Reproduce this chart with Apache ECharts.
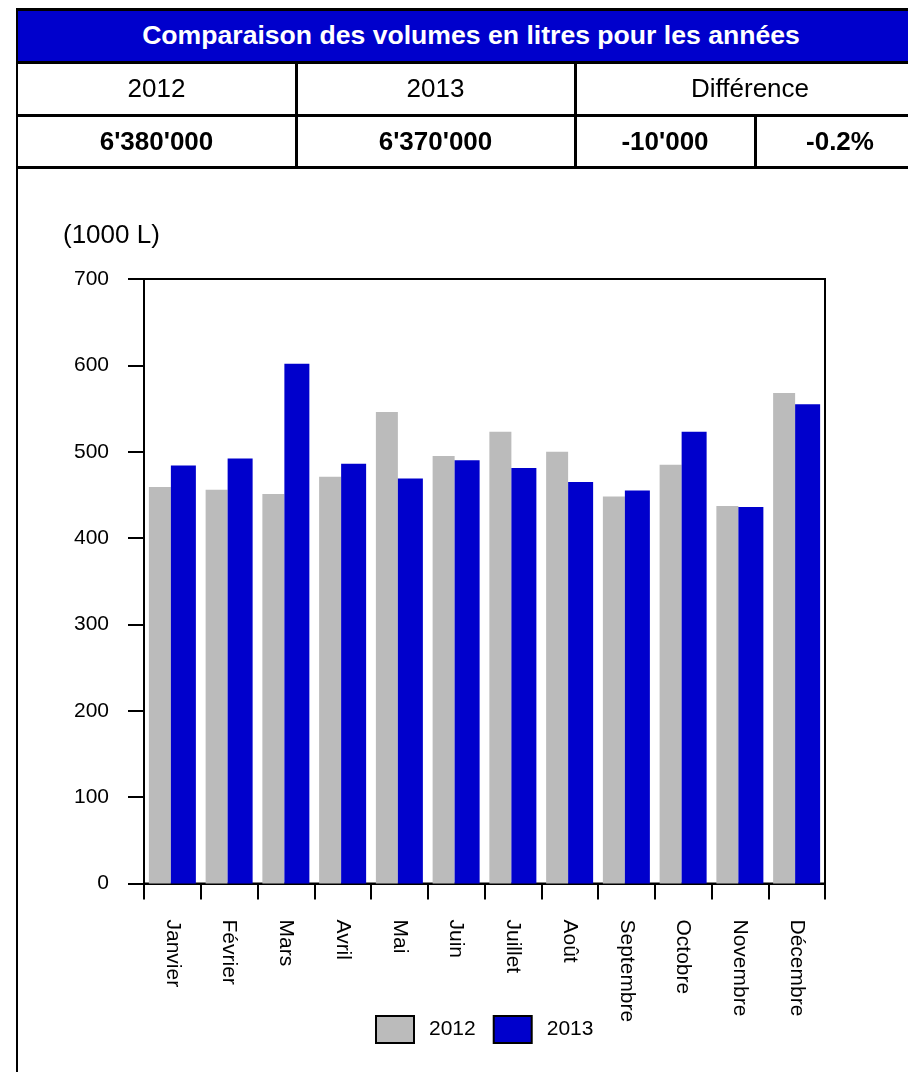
<!DOCTYPE html>
<html>
<head>
<meta charset="utf-8">
<script src="https://cdn.jsdelivr.net/npm/echarts@6/dist/echarts.min.js"></script>
<style>
  html, body { margin:0; padding:0; background:#fff; }
  body { width:908px; height:1072px; position:relative; overflow:hidden; font-family:"Liberation Sans", Arial, sans-serif; }
  #chart { position:absolute; left:0; top:0; width:908px; height:1072px; }
  .ln { position:absolute; background:#000; z-index:5; }
  .cell { position:absolute; display:flex; align-items:center; justify-content:center; font-size:26px; color:#000; z-index:4; white-space:nowrap; }
  .b { font-weight:bold; }
</style>
</head>
<body>
<div id="chart"></div>
<div id="hdr"></div>
<script>
// ---- data ----
const tableTitle = 'Comparaison des volumes en litres pour les années';
const yearLabels = ['2012', '2013'];
const diffLabel = 'Différence';
const totals = ["6'380'000", "6'370'000"];
const diffValues = ["-10'000", '-0.2%'];

const months = ['Janvier','Février','Mars','Avril','Mai','Juin','Juillet','Août','Septembre','Octobre','Novembre','Décembre'];
const values2012 = [459, 456, 451, 471, 546, 495, 523, 500, 448, 485, 437, 568];
const values2013 = [484, 492, 602, 486, 469, 490, 481, 465, 455, 523, 436, 555];
const unitLabel = '(1000 L)';
const yTicks = [0, 100, 200, 300, 400, 500, 600, 700];

// ---- header table (HTML) ----
const hdr = document.getElementById('hdr');
function line(l, t, w, h) { const d = document.createElement('div'); d.className='ln'; Object.assign(d.style,{left:l+'px',top:t+'px',width:w+'px',height:h+'px'}); hdr.appendChild(d); }
function cell(txt, l, t, w, h, bold, extra) { const d = document.createElement('div'); d.className='cell'+(bold?' b':''); d.textContent=txt; Object.assign(d.style,{left:l+'px',top:t+'px',width:w+'px',height:h+'px'}, extra||{}); hdr.appendChild(d); }
cell(tableTitle, 18, 10, 906, 51, true, {background:'#0000CC', color:'#fff', fontSize:'26.6px'});
cell(yearLabels[0], 18, 63, 277, 51, false);
cell(yearLabels[1], 297, 63, 277, 51, false);
cell(diffLabel, 576, 63, 348, 51, false);
cell(totals[0], 18, 116, 277, 50, true);
cell(totals[1], 297, 116, 277, 50, true);
cell(diffValues[0], 576, 116, 178, 50, true);
cell(diffValues[1], 756, 116, 168, 50, true);
line(16, 8, 900, 2.5);
line(16, 8, 2.2, 1064);
line(16, 61, 900, 2.5);
line(16, 114, 900, 2.5);
line(16, 166, 900, 2.5);
line(295, 61, 2.5, 107);
line(574, 61, 2.5, 107);
line(754, 114, 2.5, 54);

// ---- chart ----
const FONT = '"Liberation Sans", Arial, sans-serif';
const chart = echarts.init(document.getElementById('chart'), null, {renderer:'canvas'});
chart.setOption({
  animation: false,
  textStyle: { fontFamily: FONT },
  grid: { left: 144, right: 83, top: 279, bottom: 188.5, show: true, borderColor: '#000', borderWidth: 2, backgroundColor: 'transparent' },
  legend: {
    left: 375, top: 1015, padding: 0, itemWidth: 38, itemHeight: 27, itemGap: 17, icon: 'rect',
    itemStyle: { borderColor: '#000', borderWidth: 2 },
    textStyle: { fontSize: 21, color: '#000', fontFamily: FONT, padding: [0,0,0,10] },
    data: yearLabels
  },
  graphic: [
    { type: 'text', left: 63, top: 223, style: { text: unitLabel, font: '26px ' + FONT, fill: '#000' } }
  ],
  xAxis: {
    type: 'category', data: months,
    axisLine: { lineStyle: { color: '#000', width: 2 } },
    axisTick: { show: true, alignWithLabel: false, length: 16, lineStyle: { color: '#000', width: 2 } },
    axisLabel: { rotate: -90, fontSize: 21, color: '#000', margin: 36, fontFamily: FONT, interval: 0 },
    splitLine: { show: false }
  },
  yAxis: {
    type: 'value', min: yTicks[0], max: yTicks[yTicks.length-1], interval: 100,
    axisLine: { show: true, lineStyle: { color: '#000', width: 2 } },
    axisTick: { show: true, length: 16, lineStyle: { color: '#000', width: 2 } },
    axisLabel: { fontSize: 21, color: '#000', margin: 35, fontFamily: FONT },
    splitLine: { show: false }
  },
  series: [
    { name: yearLabels[0], type: 'bar', data: values2012, barWidth: 22, barGap: '0%', itemStyle: { color: '#BBBBBB' } },
    { name: yearLabels[1], type: 'bar', data: values2013, barWidth: 25, barGap: '0%', itemStyle: { color: '#0000CC' } }
  ]
});
</script>
</body>
</html>
